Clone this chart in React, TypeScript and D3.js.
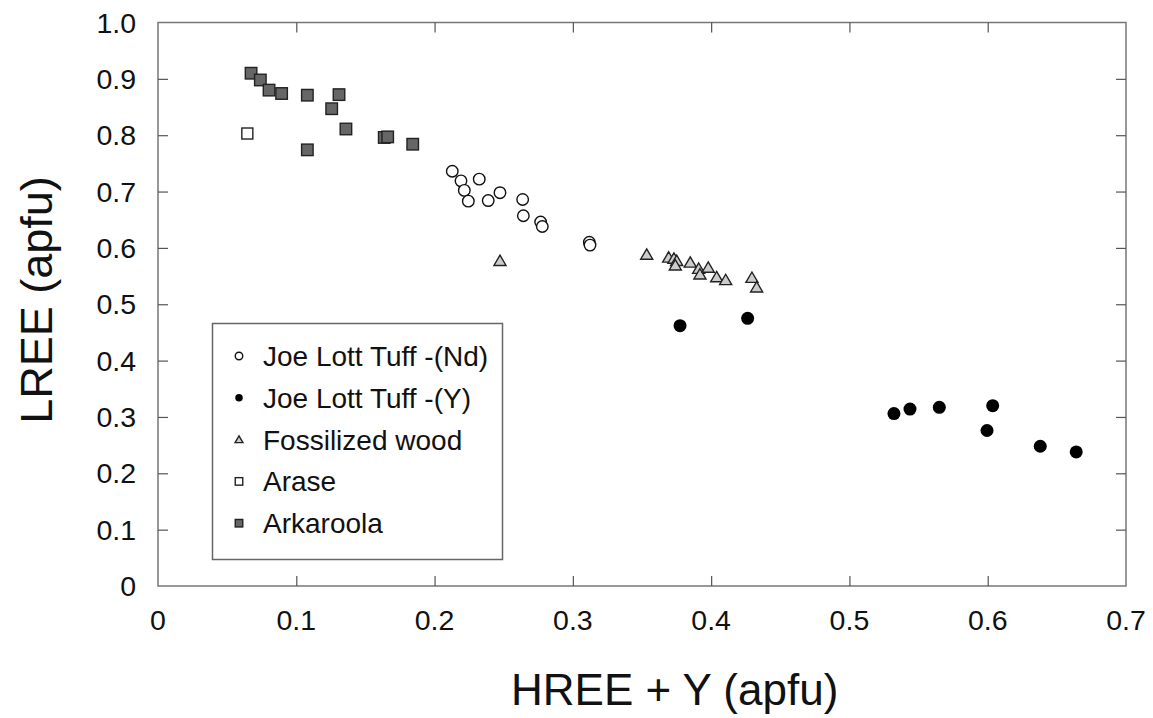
import * as d3 from "d3";
import { useEffect, useRef } from "react";

// Joe Lott Tuff -(Nd)
const nd_x = [0.2128, 0.2191, 0.2215, 0.2244, 0.2323, 0.2388, 0.2473, 0.2637, 0.2642, 0.2767, 0.2779, 0.3119, 0.3124];
const nd_y = [0.736, 0.719, 0.702, 0.683, 0.722, 0.684, 0.698, 0.686, 0.657, 0.646, 0.638, 0.61, 0.605];
// Joe Lott Tuff -(Y)
const yy_x = [0.3775, 0.4264, 0.5322, 0.5438, 0.565, 0.6036, 0.5995, 0.638, 0.664];
const yy_y = [0.462, 0.475, 0.306, 0.314, 0.317, 0.32, 0.276, 0.248, 0.238];
// Fossilized wood
const fw_x = [0.2473, 0.3534, 0.3693, 0.3731, 0.3751, 0.3741, 0.3849, 0.391, 0.3919, 0.3979, 0.404, 0.4105, 0.4295, 0.4329];
const fw_y = [0.577, 0.588, 0.583, 0.581, 0.577, 0.569, 0.574, 0.563, 0.553, 0.565, 0.548, 0.543, 0.547, 0.53];
// Arase
const ar_x = [0.0646];
const ar_y = [0.803];
// Arkaroola
const ak_x = [0.0673, 0.074, 0.0803, 0.0894, 0.108, 0.1309, 0.1256, 0.1359, 0.108, 0.1636, 0.1661, 0.1842];
const ak_y = [0.91, 0.898, 0.88, 0.874, 0.871, 0.872, 0.847, 0.811, 0.774, 0.796, 0.797, 0.784];

const xTicks = [0, 0.1, 0.2, 0.3, 0.4, 0.5, 0.6, 0.7];
const yTicks = [0, 0.1, 0.2, 0.3, 0.4, 0.5, 0.6, 0.7, 0.8, 0.9, 1.0];
const legendLabels = ["Joe Lott Tuff -(Nd)", "Joe Lott Tuff -(Y)", "Fossilized wood", "Arase", "Arkaroola"];

const FONT = "'Liberation Sans', Arial, sans-serif";

const App = () => {
	const svgRef = useRef<SVGSVGElement>(null);

	useEffect(() => {
		const width = 1153,
			height = 718;
		const margin = { top: 22.5, right: 27, bottom: 132, left: 158 };
		const w = width - margin.left - margin.right,
			h = height - margin.top - margin.bottom;

		const svg = d3.select(svgRef.current).html("").attr("width", width).attr("height", height);
		const g = svg.append("g").attr("transform", `translate(${margin.left},${margin.top})`);

		const x = d3.scaleLinear().domain([0, 0.7]).range([0, w]);
		const y = d3.scaleLinear().domain([0, 1]).range([h, 0]);

		// frame
		g.append("rect")
			.attr("width", w)
			.attr("height", h)
			.attr("fill", "none")
			.attr("stroke", "#777")
			.attr("stroke-width", 1.5);

		// inward ticks on all four sides
		const tickLen = 10;
		const tickStyle = (sel) => {
			sel.select(".domain").remove();
			sel.selectAll(".tick line").attr("stroke", "#555").attr("stroke-width", 1.2);
			sel.selectAll("text").remove();
		};
		g.append("g")
			.attr("transform", `translate(0,${h})`)
			.call(d3.axisBottom(x).tickValues(xTicks.slice(1, -1)).tickSize(-tickLen))
			.call(tickStyle);
		g.append("g")
			.call(d3.axisTop(x).tickValues(xTicks.slice(1, -1)).tickSize(-tickLen))
			.call(tickStyle);
		g.append("g")
			.call(d3.axisLeft(y).tickValues(yTicks.slice(1, -1)).tickSize(-tickLen))
			.call(tickStyle);
		g.append("g")
			.attr("transform", `translate(${w},0)`)
			.call(d3.axisRight(y).tickValues(yTicks.slice(1, -1)).tickSize(-tickLen))
			.call(tickStyle);

		// tick labels
		g.selectAll(".xlab")
			.data(xTicks)
			.join("text")
			.attr("x", (d) => x(d))
			.attr("y", h + 44)
			.attr("text-anchor", "middle")
			.attr("font-family", FONT)
			.attr("font-size", 28.5)
			.attr("fill", "#111")
			.text((d) => (d === 0 ? "0" : d3.format(".1f")(d)));

		g.selectAll(".ylab")
			.data(yTicks)
			.join("text")
			.attr("x", -22)
			.attr("y", (d) => y(d) + 10)
			.attr("text-anchor", "end")
			.attr("font-family", FONT)
			.attr("font-size", 28.5)
			.attr("fill", "#111")
			.text((d) => (d === 0 ? "0" : d3.format(".1f")(d)));

		// axis titles
		svg.append("text")
			.attr("x", 511)
			.attr("y", 705)
			.attr("font-family", FONT)
			.attr("font-size", 44)
			.attr("fill", "#111")
			.text("HREE + Y (apfu)");

		svg.append("text")
			.attr("transform", "translate(52,300) rotate(-90)")
			.attr("text-anchor", "middle")
			.attr("font-family", FONT)
			.attr("font-size", 45)
			.attr("fill", "#111")
			.text("LREE (apfu)");

		// symbols
		const drawSym = (sel, kind, size) => {
			if (kind === "circleOpen") {
				sel.append("circle").attr("r", size / 2).attr("fill", "#fff").attr("stroke", "#111").attr("stroke-width", 1.4);
			} else if (kind === "circleFilled") {
				sel.append("circle").attr("r", size / 2).attr("fill", "#000");
			} else if (kind === "triangle") {
				const s = size / 2;
				sel.append("path")
					.attr("d", `M0,${-s}L${s * 1.05},${s * 0.8}L${-s * 1.05},${s * 0.8}Z`)
					.attr("fill", "#ccc")
					.attr("stroke", "#222")
					.attr("stroke-width", 1.4);
			} else if (kind === "squareOpen") {
				sel.append("rect").attr("x", -size / 2).attr("y", -size / 2).attr("width", size).attr("height", size)
					.attr("fill", "#fff").attr("stroke", "#222").attr("stroke-width", 1.4);
			} else {
				sel.append("rect").attr("x", -size / 2).attr("y", -size / 2).attr("width", size).attr("height", size)
					.attr("fill", "#666").attr("stroke", "#222").attr("stroke-width", 1.4);
			}
		};

		const series = [
			{ xs: nd_x, ys: nd_y, kind: "circleOpen", size: 11.5 },
			{ xs: yy_x, ys: yy_y, kind: "circleFilled", size: 13 },
			{ xs: fw_x, ys: fw_y, kind: "triangle", size: 11.5 },
			{ xs: ar_x, ys: ar_y, kind: "squareOpen", size: 11 },
			{ xs: ak_x, ys: ak_y, kind: "squareFilled", size: 11.5 },
		];

		series.forEach((s) => {
			s.xs.forEach((xv, i) => {
				const p = g.append("g").attr("transform", `translate(${x(xv)},${y(s.ys[i])})`);
				drawSym(p, s.kind, s.size);
			});
		});

		// legend
		const leg = svg.append("g");
		leg.append("rect")
			.attr("x", 212.5)
			.attr("y", 323.5)
			.attr("width", 290)
			.attr("height", 236)
			.attr("fill", "#fff")
			.attr("stroke", "#666")
			.attr("stroke-width", 1.5);
		legendLabels.forEach((lab, i) => {
			const cy = 356 + i * 41.8;
			const p = leg.append("g").attr("transform", `translate(239,${cy})`);
			drawSym(p, series[i].kind, 7.5);
			leg.append("text")
				.attr("x", 263)
				.attr("y", cy + 10)
				.attr("font-family", FONT)
				.attr("font-size", 28)
				.attr("fill", "#111")
				.text(lab);
		});
	}, []);

	return (
		<div style={{ position: "absolute", left: 0, top: 0, width: 1153, height: 718, background: "#fff" }}>
			<svg ref={svgRef} style={{ display: "block" }}></svg>
		</div>
	);
};

export default App;
